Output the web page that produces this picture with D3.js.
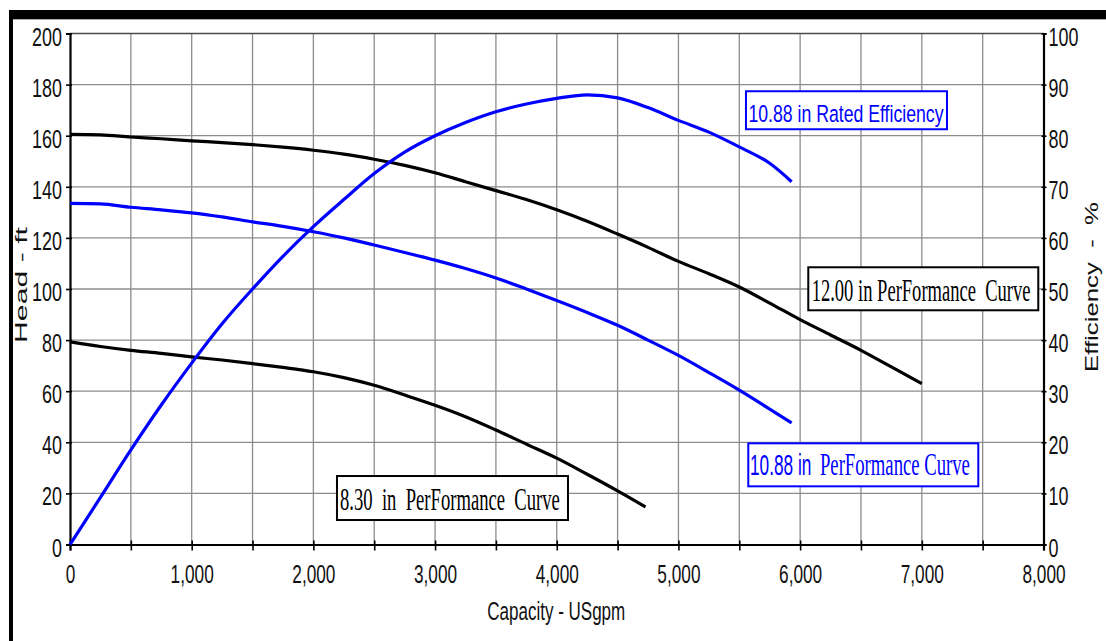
<!DOCTYPE html>
<html>
<head>
<meta charset="utf-8">
<script src="https://cdn.jsdelivr.net/npm/d3@7"></script>
<style>
  html, body { margin: 0; padding: 0; background: #fff; }
  svg { display: block; }
</style>
</head>
<body>
<svg id="chart" width="1106" height="641"></svg>
<script>
// ---- Pump curve data: capacity (USgpm), head (ft), efficiency (%) ----
const capacityTicks = [0, 500, 1000, 1500, 2000, 2500, 3000, 3500, 4000, 4500, 5000, 5500, 6000, 6500, 7000, 7500, 8000];
const headTicks = [0, 20, 40, 60, 80, 100, 120, 140, 160, 180, 200];
const efficiencyTicks = [0, 10, 20, 30, 40, 50, 60, 70, 80, 90, 100];

// 12.00 in impeller – head
const imp1200Capacity = [0, 250, 500, 750, 1000, 1250, 1500, 1750, 2000, 2250, 2500, 2750, 3000, 3250, 3500, 3750, 4000, 4250, 4500, 4750, 5000, 5250, 5500, 5750, 6000, 6250, 6500, 6750, 7000];
const imp1200Head = [160.5, 160.3, 159.5, 158.8, 158, 157.3, 156.5, 155.5, 154.3, 152.8, 150.8, 148.4, 145.5, 142, 138.5, 135, 131, 126.5, 121.5, 116.3, 110.8, 106, 100.8, 94.5, 88, 82, 76, 69.5, 63];

// 10.88 in impeller – head
const imp1088Capacity = [0, 250, 500, 750, 1000, 1250, 1500, 1750, 2000, 2250, 2500, 2750, 3000, 3250, 3500, 3750, 4000, 4250, 4500, 4750, 5000, 5250, 5500, 5750, 5930];
const imp1088Head = [133.5, 133.3, 132, 131, 129.8, 128.2, 126.3, 124.5, 122.4, 120, 117.2, 114.3, 111.3, 108, 104.3, 100, 95.5, 90.8, 85.8, 80, 74, 67.3, 60.4, 53, 47.6];

// 8.30 in impeller – head
const imp830Capacity = [0, 250, 500, 750, 1000, 1250, 1500, 1750, 2000, 2250, 2500, 2750, 3000, 3250, 3500, 3750, 4000, 4250, 4500, 4730];
const imp830Head = [79.3, 77.5, 76, 74.8, 73.4, 72.2, 70.8, 69.3, 67.6, 65.3, 62.3, 58.5, 54.5, 50, 44.8, 39.3, 33.8, 27.5, 21, 14.7];

// 10.88 in impeller – rated efficiency
const effCapacity = [0, 250, 500, 750, 1000, 1250, 1500, 1750, 2000, 2250, 2500, 2750, 3000, 3250, 3500, 3750, 4000, 4250, 4500, 4750, 5000, 5250, 5500, 5750, 5930];
const effValues = [0, 9.2, 18.5, 27.3, 35.5, 43.2, 50, 56.4, 62.2, 67.5, 72.6, 76.8, 80, 82.6, 84.7, 86.2, 87.3, 88, 87.4, 85.5, 83, 80.7, 77.8, 74.6, 71];

// ---- Layout ----
const W = 1106, H = 641;
const plot = { left: 70, right: 1043.5, top: 33.5, bottom: 544.5 };
const BLUE = "#0000ff";
const SANS = "'Liberation Sans', Arial, sans-serif";
const SERIF = "'Liberation Serif', 'Times New Roman', serif";
const SQUEEZE = 0.69;   // condensed look of the sans labels

const svg = d3.select("#chart");

const x = d3.scaleLinear().domain([0, 8000]).range([plot.left, plot.right]);
const yHead = d3.scaleLinear().domain([0, 200]).range([plot.bottom, plot.top]);
const yEff = d3.scaleLinear().domain([0, 100]).range([plot.bottom, plot.top]);

// Narrow a text horizontally about its anchor point (x attribute) by factor k,
// or to a target length when `len` is given.
function narrow(sel, k, len) {
  sel.each(function () {
    const w = this.getComputedTextLength();
    if (!(w > 0)) return;
    const f = len ? len / w : k;
    const ax = +this.getAttribute("x") || 0;
    const prev = this.getAttribute("transform") || "";
    this.setAttribute("transform", `${prev} translate(${ax * (1 - f)},0) scale(${f},1)`);
  });
}

// ---- Frame: heavy top bar and left rule ----
svg.append("rect").attr("x", 0).attr("y", 0).attr("width", W).attr("height", H).attr("fill", "#fff");
svg.append("rect").attr("x", 9).attr("y", 10).attr("width", W - 9).attr("height", 9).attr("fill", "#000");
svg.append("line").attr("x1", 13).attr("x2", W).attr("y1", 19.5).attr("y2", 19.5).attr("stroke", "#aaa").attr("stroke-width", 1);
svg.append("rect").attr("x", 9).attr("y", 10).attr("width", 4).attr("height", H - 10).attr("fill", "#000");

// ---- Grid ----
const grid = svg.append("g").attr("stroke", "#8c8c8c").attr("stroke-width", 1.3);
grid.selectAll("line.vx")
  .data(capacityTicks.filter(v => v > 0 && v < 8000))
  .join("line")
  .attr("x1", d => x(d)).attr("x2", d => x(d))
  .attr("y1", plot.top).attr("y2", plot.bottom);
grid.selectAll("line.hy")
  .data(headTicks.filter(v => v > 0 && v < 200))
  .join("line")
  .attr("x1", plot.left).attr("x2", plot.right)
  .attr("y1", d => yHead(d)).attr("y2", d => yHead(d));

// top border of plot
svg.append("line")
  .attr("x1", plot.left).attr("x2", plot.right)
  .attr("y1", plot.top).attr("y2", plot.top)
  .attr("stroke", "#4a4a4a").attr("stroke-width", 1.6);

// ---- Axes ----
function styleAxis(g) {
  g.select(".domain").attr("stroke", "#000").attr("stroke-width", 2.2);
  g.selectAll(".tick line").attr("stroke", "#000").attr("stroke-width", 1.6);
  g.selectAll(".tick text").attr("fill", "#111").attr("font-family", SANS);
}

const xAxis = svg.append("g")
  .attr("transform", `translate(0,${plot.bottom})`)
  .call(d3.axisBottom(x).tickValues(capacityTicks).tickSizeOuter(0).tickSize(6)
    .tickFormat(d => d % 1000 === 0 ? d3.format(",")(d) : ""));
styleAxis(xAxis);
xAxis.selectAll(".tick line").attr("y1", -4).attr("y2", 6);
xAxis.selectAll(".tick text").attr("font-size", 25).attr("y", 38.5).attr("dy", 0);

const yAxisL = svg.append("g")
  .attr("transform", `translate(${plot.left},0)`)
  .call(d3.axisLeft(yHead).tickValues(headTicks).tickSizeOuter(0).tickSize(4));
styleAxis(yAxisL);
yAxisL.selectAll(".tick line").attr("x1", 2).attr("x2", -4);
yAxisL.selectAll(".tick text").attr("font-size", 26).attr("x", -8).attr("dy", 11.5);

const yAxisR = svg.append("g")
  .attr("transform", `translate(${plot.right},0)`)
  .call(d3.axisRight(yEff).tickValues(efficiencyTicks).tickSizeOuter(0).tickSize(3));
styleAxis(yAxisR);
yAxisR.selectAll(".tick line").attr("x1", -2).attr("x2", 3);
yAxisR.selectAll(".tick text").attr("font-size", 26).attr("x", 5).attr("dy", 11.5);

narrow(svg.selectAll(".tick text"), SQUEEZE);

// ---- Axis titles ----
svg.append("text")
  .attr("x", (plot.left + plot.right) / 2 - 0.5).attr("y", 620)
  .attr("text-anchor", "middle").attr("font-family", SANS).attr("font-size", 25).attr("fill", "#111")
  .text("Capacity - USgpm")
  .call(narrow, null, 138);

svg.append("text")
  .attr("transform", "translate(26.5,285) rotate(-90)")
  .attr("text-anchor", "middle").attr("font-family", SANS).attr("font-size", 16.5).attr("fill", "#111")
  .text("Head - ft")
  .call(narrow, null, 116);

svg.append("text")
  .attr("transform", "translate(1098.3,287) rotate(-90)")
  .attr("text-anchor", "middle").attr("font-family", SANS).attr("font-size", 18.5).attr("fill", "#111")
  .attr("xml:space", "preserve").style("white-space", "pre")
  .text("Efficiency  -  %")
  .call(narrow, null, 170);

// ---- Curves ----
const curves = svg.append("g").attr("fill", "none").attr("stroke-width", 3.2)
  .attr("stroke-linejoin", "round").attr("stroke-linecap", "butt");

function drawCurve(caps, vals, yScale, color) {
  const pts = caps.map((c, i) => [c, vals[i]]);
  curves.append("path")
    .datum(pts)
    .attr("stroke", color)
    .attr("d", d3.line().x(d => x(d[0])).y(d => yScale(d[1])).curve(d3.curveMonotoneX));
}

drawCurve(imp1200Capacity, imp1200Head, yHead, "#000");
drawCurve(imp830Capacity, imp830Head, yHead, "#000");
drawCurve(imp1088Capacity, imp1088Head, yHead, BLUE);
drawCurve(effCapacity, effValues, yEff, BLUE);

// ---- Curve labels (boxed) ----
// anchor: top-left corner in data units; parts: text runs with offset, length, font
const labels = [
  { cap: 5555, val: 88.7, scale: yEff, w: 201, h: 38, color: BLUE, base: 30.5,
    parts: [{ text: "10.88 in Rated Efficiency", dx: 2.5, len: 195, font: SANS, size: 23.7 }] },
  { cap: 6067, val: 108.5, scale: yHead, w: 230, h: 43, color: "#000", base: 33.7,
    parts: [{ text: "12.00 in PerFormance  Curve", dx: 3.4, len: 219, font: SERIF, size: 31 }] },
  { cap: 5574, val: 39.6, scale: yHead, w: 230, h: 43, color: BLUE, base: 31.7,
    parts: [{ text: "10.88 in", dx: 1.7, len: 61.5, font: SANS, size: 29 },
            { text: "PerFormance Curve", dx: 71.7, len: 150, font: SERIF, size: 31 }] },
  { cap: 2194, val: 26.8, scale: yHead, w: 231, h: 44, color: "#000", base: 34,
    parts: [{ text: "8.30  in  PerFormance  Curve", dx: 3, len: 220, font: SERIF, size: 31 }] }
];

const lab = svg.append("g").selectAll("g").data(labels).join("g")
  .attr("transform", d => `translate(${x(d.cap)},${d.scale(d.val)})`);
lab.append("rect")
  .attr("width", d => d.w).attr("height", d => d.h)
  .attr("fill", "#fff").attr("stroke", d => d.color).attr("stroke-width", 2);
lab.each(function (d) {
  const g = d3.select(this);
  d.parts.forEach(p => {
    g.append("text")
      .attr("x", p.dx).attr("y", d.base)
      .attr("font-family", p.font).attr("font-size", p.size)
      .attr("fill", d.color)
      .attr("xml:space", "preserve").style("white-space", "pre")
      .text(p.text)
      .call(narrow, null, p.len);
  });
});
</script>
</body>
</html>
